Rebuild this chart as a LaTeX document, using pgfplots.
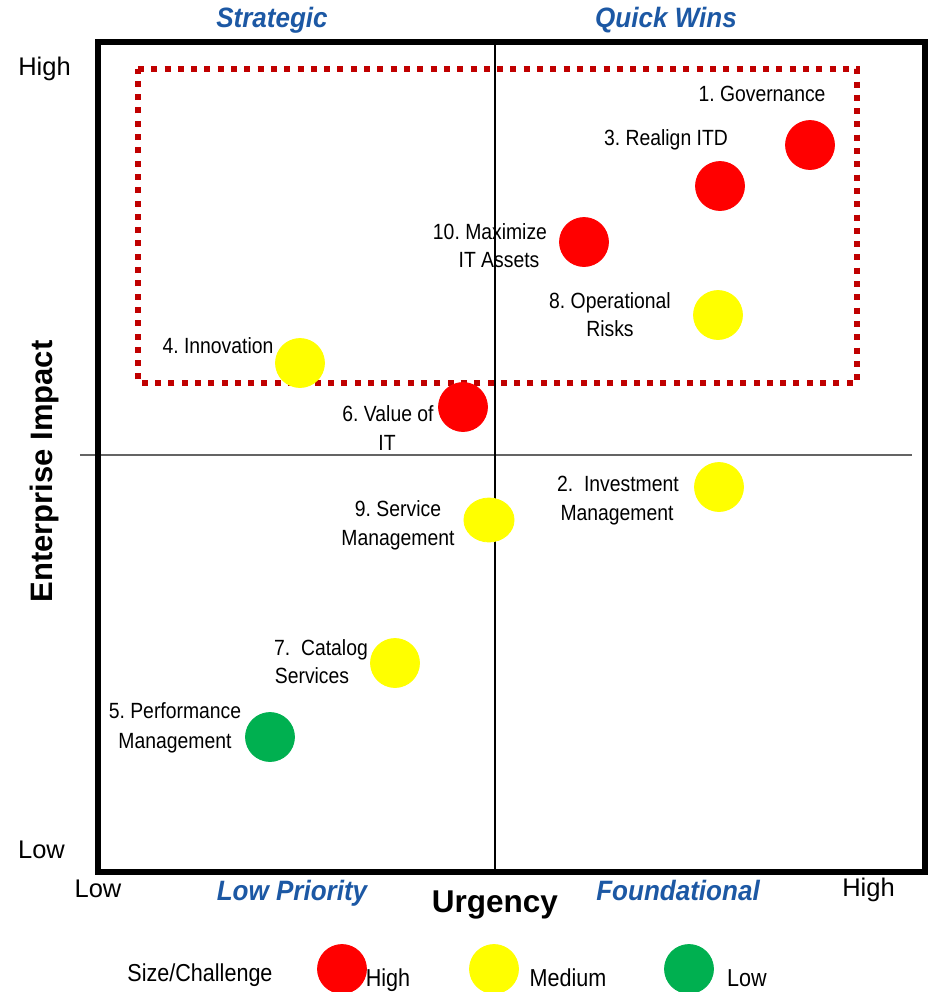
\documentclass[border=0pt]{standalone}
\usepackage{pgfplots}
\pgfplotsset{compat=1.18}
\usepackage{fontspec}
\setmainfont{Liberation Sans}
\newfontfamily\narrowfont[FakeStretch=0.88]{Liberation Sans}
\newfontfamily\quadfont[FakeStretch=0.93]{Liberation Sans}
\definecolor{quadblue}{RGB}{28,88,164}
\definecolor{bubred}{RGB}{255,0,0}
\definecolor{bubyellow}{RGB}{255,255,0}
\definecolor{bubgreen}{RGB}{0,176,80}
\definecolor{focusred}{RGB}{192,0,0}
\definecolor{midline}{RGB}{100,100,100}
\frenchspacing

% bubble label lines (anchored at the baseline)
\newcommand{\blabel}[3]{\node[font=\narrowfont\fontsize{11}{13}\selectfont, anchor=base, inner sep=0pt] at (axis cs:#1,#2) {#3};}
\newcommand{\quadlabel}[3]{\node[font=\quadfont\fontsize{14}{16}\selectfont\bfseries\itshape, text=quadblue, anchor=base, inner sep=0pt] at (axis cs:#1,#2) {#3};}
\newcommand{\scalelabel}[3]{\node[font=\fontsize{12.75}{14}\selectfont, anchor=base, inner sep=0pt] at (axis cs:#1,#2) {#3};}
\newcommand{\legendlabel}[3]{\node[font=\narrowfont\fontsize{12.25}{14}\selectfont, anchor=base, inner sep=0pt] at (axis cs:#1,#2) {#3};}

\begin{document}
\begin{tikzpicture}
\begin{axis}[
  scale only axis,
  width=413.5pt, height=415.25pt,
  xmin=98, xmax=925, ymin=41.5, ymax=872,
  y dir=reverse,
  axis line style={draw=none},
  ticks=none,
  clip=false,
]
% quadrant dividers
\addplot[midline, line width=0.75pt] coordinates {(80,455) (912,455)};
\addplot[black, line width=0.6pt] coordinates {(495,41.5) (495,872)};

% initiatives: red = high challenge
\addplot[only marks, mark=*, mark size=12.25pt, color=bubred]
  coordinates {(810,145) (720,186) (584,242) (463,407)};
% yellow = medium challenge
\addplot[only marks, mark=*, mark size=12.25pt, color=bubyellow]
  coordinates {(718,315) (300,363) (719,487) (395,663)};
\addplot[only marks, mark=*, mark size=11pt, color=bubyellow, mark options={xscale=1.14}]
  coordinates {(489,520)};
% green = low challenge
\addplot[only marks, mark=*, mark size=12.25pt, color=bubgreen]
  coordinates {(270,737)};

% priority focus area
\addplot[focusred, line width=3pt, dash pattern=on 3pt off 3.65pt]
  coordinates {(138,69) (857,69) (857,383) (138,383)} -- cycle;

% legend markers
\addplot[only marks, mark=*, mark size=12.25pt, color=bubred] coordinates {(342,969)};
\addplot[only marks, mark=*, mark size=12.25pt, color=bubyellow] coordinates {(494,969)};
\addplot[only marks, mark=*, mark size=12.25pt, color=bubgreen] coordinates {(689,969)};

% frame
\draw[black, line width=3pt] (rel axis cs:0,0) rectangle (rel axis cs:1,1);

% bubble labels
\blabel{762}{101}{1. Governance}
\blabel{666}{145}{3. Realign ITD}
\blabel{490}{239}{10. Maximize}
\blabel{499}{267}{IT Assets}
\blabel{610}{308}{8. Operational}
\blabel{610}{336}{Risks}
\blabel{218}{353}{4. Innovation}
\blabel{388}{421}{6. Value of}
\blabel{387}{450}{IT}
\blabel{618}{491}{2.\ \ Investment}
\blabel{617}{520}{Management}
\blabel{398}{516}{9. Service}
\blabel{398}{545}{Management}
\blabel{321}{655}{7.\ \ Catalog}
\blabel{312}{683}{Services}
\blabel{175}{718}{5. Performance}
\blabel{175}{748}{Management}

% quadrant names
\quadlabel{272}{27}{Strategic}
\quadlabel{666}{27}{Quick Wins}
\quadlabel{292}{900}{Low Priority}
\quadlabel{678}{900}{Foundational}

% axis titles and scale ends
\node[font=\fontsize{15.75}{18}\selectfont\bfseries, anchor=base, inner sep=0pt] at (axis cs:495,912) {Urgency};
\node[font=\fontsize{15.5}{18}\selectfont\bfseries, anchor=base, rotate=90, inner sep=0pt] at (axis cs:53,471.5) {Enterprise Impact};
\scalelabel{44.5}{75}{High}
\scalelabel{41.5}{858}{Low}
\scalelabel{98}{897}{Low}
\scalelabel{868.5}{896}{High}

% legend text
\legendlabel{200}{981}{Size/Challenge}
\legendlabel{388}{986}{High}
\legendlabel{568}{986}{Medium}
\legendlabel{747}{986}{Low}

\coordinate (pagetl) at (axis cs:0,0);
\coordinate (pagebr) at (axis cs:930,992);
\end{axis}
\pgfresetboundingbox
\path[use as bounding box] (pagetl) rectangle (pagebr);
\end{tikzpicture}
\end{document}
